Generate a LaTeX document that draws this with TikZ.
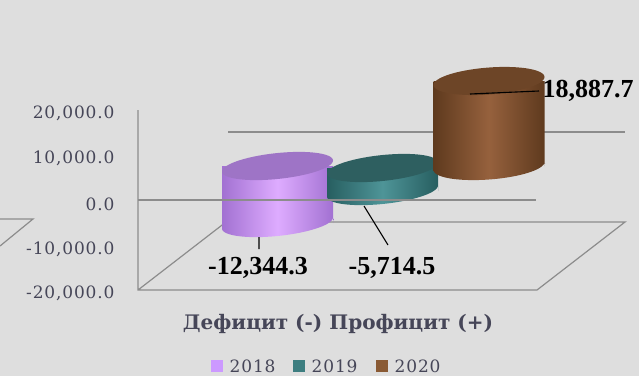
\documentclass[tikz,border=0pt]{standalone}
\usepackage{fontspec}
\setmainfont{Liberation Serif}
\newfontfamily\tickfont[LetterSpace=5]{DejaVu Serif}
\newfontfamily\titlefont{DejaVu Serif}
\usepackage{xcolor}
\usetikzlibrary{arrows,positioning}

\definecolor{bgc}{HTML}{DEDEDE}
\definecolor{txtc}{HTML}{464658}
\definecolor{gridc}{HTML}{8C8C8C}
\definecolor{purpD}{HTML}{A271D2}
\definecolor{purpL}{HTML}{DEACFF}
\definecolor{purpT}{HTML}{9E74C6}
\definecolor{tealD}{HTML}{275E60}
\definecolor{tealL}{HTML}{4E9498}
\definecolor{tealT}{HTML}{2E5F60}
\definecolor{brnD}{HTML}{5E3A1E}
\definecolor{brnL}{HTML}{96613D}
\definecolor{brnT}{HTML}{6D4527}
\definecolor{key18}{HTML}{CC99FF}
\definecolor{key19}{HTML}{3D7E80}
\definecolor{key20}{HTML}{8A5A34}

\begin{document}
\begin{tikzpicture}[x=1pt,y=-1pt,
                tick label/.style={anchor=east,text=txtc,font=\tickfont\fontsize{17}{17}\selectfont},
                grid line/.style={draw=gridc,line width=1.2pt},
                value label/.style={font=\bfseries\fontsize{26}{26}\selectfont,text=black},
                leader/.style={draw=black,line width=1.1pt},
                legend box/.style={fill=#1,minimum size=12pt,inner sep=0pt},
                legend text/.style={text=txtc,font=\tickfont\fontsize{17}{17}\selectfont,right=3pt of #1}]
  \path[use as bounding box,fill=bgc] (0,0) rectangle (639,376);

  % axis values
  \node[tick label] (y20) at (118,113) {20,000.0};
  \node[tick label] (y10) at (118,158) {10,000.0};
  \node[tick label] (y0) at (118,204) {0.0};
  \node[tick label] (ym10) at (118,249) {-10,000.0};
  \node[tick label] (ym20) at (118,293) {-20,000.0};

  % walls and floor
  \draw[grid line] (0,219) -- (33,219) -- (0,246);
  \draw[grid line] (138,110) -- (138,290) -- (537,290) -- (625,222) -- (226,222) -- (138,290);
  \draw[grid line] (228,132) -- (625,132);

  % 2018
  \begin{scope}[shift={(277.5,223)}]
    \shade[left color=purpD,right color=purpD,middle color=purpL]
      (-55.5,-57) -- (55.5,-57) -- (55.5,0)
      -- plot[domain=0:180,samples=40,variable=\t] ({55.5*cos(\t)},{13*sin(\t)-5.5*cos(\t)}) -- cycle;
    \fill[purpT] plot[domain=0:360,samples=60,variable=\t] ({55.5*cos(\t)},{-57+13*sin(\t)-5.5*cos(\t)}) -- cycle;
  \end{scope}

  % 2019
  \begin{scope}[shift={(382.5,191)}]
    \shade[left color=tealD,right color=tealD,middle color=tealL]
      (-55.5,-23) -- (55.5,-23) -- (55.5,0)
      -- plot[domain=0:180,samples=40,variable=\t] ({55.5*cos(\t)},{13*sin(\t)-5.5*cos(\t)}) -- cycle;
    \fill[tealT] plot[domain=0:360,samples=60,variable=\t] ({55.5*cos(\t)},{-23+13*sin(\t)-5.5*cos(\t)}) -- cycle;
  \end{scope}

  % 2020
  \begin{scope}[shift={(489,166)}]
    \shade[left color=brnD,right color=brnD,middle color=brnL]
      (-55.5,-85) -- (55.5,-85) -- (55.5,0)
      -- plot[domain=0:180,samples=40,variable=\t] ({55.5*cos(\t)},{13.5*sin(\t)-4*cos(\t)}) -- cycle;
    \fill[brnT] plot[domain=0:360,samples=60,variable=\t] ({55.5*cos(\t)},{-85+13.5*sin(\t)-4*cos(\t)}) -- cycle;
  \end{scope}

  \draw[grid line] (138,200) -- (536,200);

  % values
  \node[value label] (v18) at (258,268) {-12,344.3};
  \node[value label] (v19) at (392,268) {-5,714.5};
  \node[value label,anchor=west] (v20) at (539,91) {18,887.7};
  \coordinate (c18) at (259,237);
  \coordinate (c19) at (364,206);
  \coordinate (c20) at (470,94);
  \coordinate (e18) at (259,249);
  \coordinate (e19) at (388,245);
  \path[leader] (c18) -- (e18)
    (c19) -- (e19)
    (c20) -- (v20.west);

  % title and legend
  \node[text=txtc,font=\titlefont\bfseries\fontsize{20}{20}\selectfont] (title) at (338,324) {Дефицит (-) Профицит (+)};
  \node[legend box=key18] (k18) at (217,366) {};
  \node[legend text=k18] (t18) {2018};
  \node[legend box=key19] (k19) at (299,366) {};
  \node[legend text=k19] (t19) {2019};
  \node[legend box=key20] (k20) at (382,366) {};
  \node[legend text=k20] (t20) {2020};
\end{tikzpicture}
\end{document}
